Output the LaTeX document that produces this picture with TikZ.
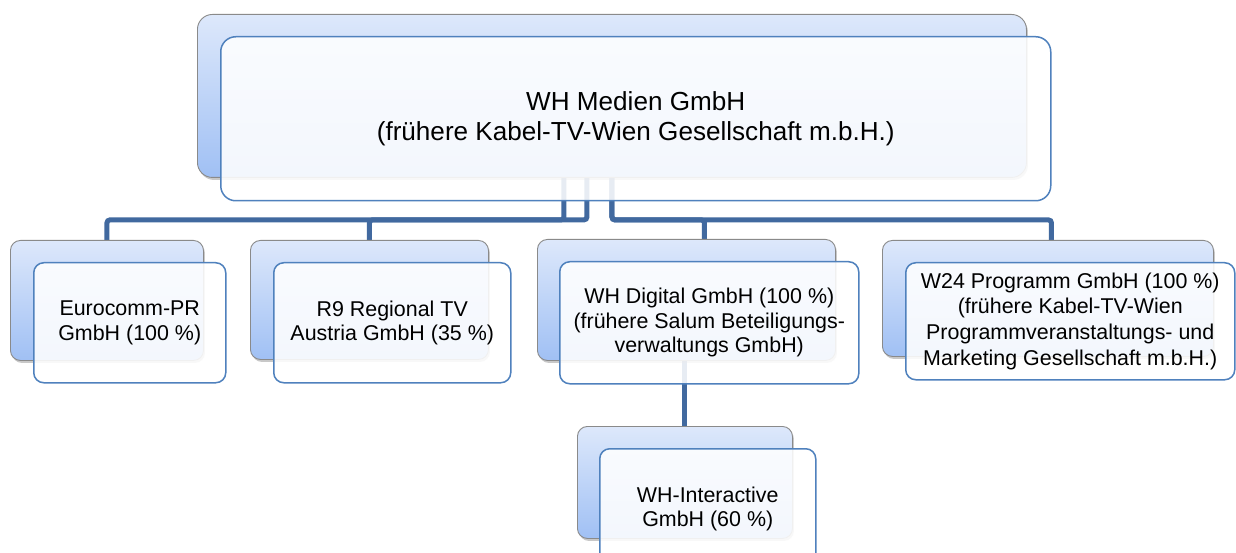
\documentclass[tikz,border=0pt]{standalone}
\usepackage{fontspec}
\setmainfont{Liberation Sans}
\usetikzlibrary{shadows,calc}
\definecolor{backtop}{HTML}{DDE8FB}
\definecolor{backbot}{HTML}{A0C0F4}
\definecolor{backline}{HTML}{8A8A8A}
\definecolor{frontline}{HTML}{4F81BD}
\definecolor{connline}{HTML}{41699F}
\pgfdeclarelayer{background}
\pgfsetlayers{background,main}
\begin{document}
\begin{tikzpicture}[x=1bp,y=-1bp,
  backbox/.style={draw=backline, line width=0.9bp, rounded corners=#1,
    top color=backtop, bottom color=backbot, anchor=north west, inner sep=0pt,
    drop shadow={shadow xshift=1.5bp, shadow yshift=-2.5bp, opacity=0.3, fill=black!70}},
  backbox/.default=10bp,
  frontbox/.style={draw=frontline, line width=1.5bp, rounded corners=#1,
    fill=white, fill opacity=0.88, text opacity=1, anchor=north west,
    inner sep=2bp, align=center, font={\fontsize{21.5}{24.5}\selectfont}},
  frontbox/.default=10bp,
  conn/.style={draw=connline, line width=5bp, rounded corners=3bp}]
\useasboundingbox (0,0) rectangle (1236,553);
\clip (0,0) rectangle (1236,553);

% top
\node[backbox=15bp, minimum width=829bp, minimum height=163bp] (mainB) at (197,14) {};
\node[frontbox=15bp, minimum width=830bp, minimum height=164bp,
  font={\fontsize{26.2}{30}\selectfont}] (mainF) at (220,36)
  {WH Medien GmbH\\(frühere Kabel-TV-Wien Gesellschaft m.b.H.)};

% Eurocomm
\node[backbox, minimum width=193bp, minimum height=120bp] (euroB) at (10,240) {};
\node[frontbox, minimum width=192bp, minimum height=120bp] (euroF) at (33,262)
  {Eurocomm-PR\\GmbH (100 \%)};

% R9
\node[backbox, minimum width=238bp, minimum height=119bp] (r9B) at (250,240) {};
\node[frontbox, minimum width=237bp, minimum height=120bp] (r9F) at (273,262)
  {R9 Regional TV\\Austria GmbH (35 \%)};

% WH Digital
\node[backbox, minimum width=298bp, minimum height=121bp] (digB) at (537,239) {};
\node[frontbox, minimum width=299bp, minimum height=122bp] (digF) at (559,261)
  {WH Digital GmbH (100 \%)\\(frühere Salum Beteiligungs-\\verwaltungs GmbH)};

% W24
\node[backbox, minimum width=331bp, minimum height=116bp] (w24B) at (882,240) {};
\node[frontbox, minimum width=329bp, minimum height=117bp,
  font={\fontsize{21.5}{25.8}\selectfont}] (w24F) at (905,262)
  {W24 Programm GmbH (100 \%)\\(frühere Kabel-TV-Wien\\Programmveranstaltungs- und\\Marketing Gesellschaft m.b.H.)};

% WH-Interactive
\node[backbox, minimum width=215bp, minimum height=112bp] (intB) at (577,426) {};
\node[frontbox, minimum width=216bp, minimum height=120bp] (intF) at (599,448)
  {WH-Interactive\\GmbH (60 \%)};

\begin{pgfonlayer}{background}
\fill[white] (0,0) rectangle (1236,553);
\draw[conn] ([xshift=-48bp]mainB.south) -- ++(0,42) -| (euroB.north);
\draw[conn] ([xshift=-25bp]mainB.south) -- ++(0,42) -| (r9B.north);
\draw[conn] (mainB.south) -- ++(0,42) -| ([xshift=18bp]digB.north);
\draw[conn] (mainB.south) -- ++(0,42) -| ([xshift=3.5bp]w24B.north);
\draw[conn] (intB.north |- digB.south) -- (intB.north);
\end{pgfonlayer}
\end{tikzpicture}
\end{document}
